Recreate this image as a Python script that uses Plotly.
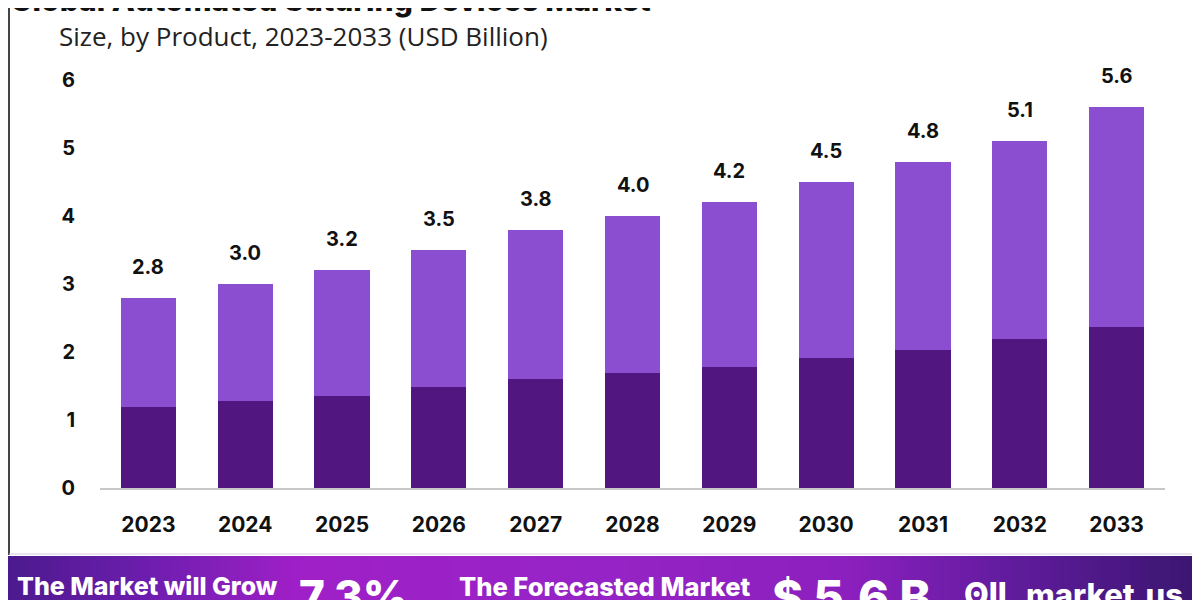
import plotly.graph_objects as go

# ---- data ----
years = ["2023", "2024", "2025", "2026", "2027", "2028", "2029", "2030", "2031", "2032", "2033"]
segment_a = [1.19, 1.28, 1.35, 1.49, 1.60, 1.69, 1.78, 1.91, 2.03, 2.19, 2.37]  # darker, bottom
totals = [2.8, 3.0, 3.2, 3.5, 3.8, 4.0, 4.2, 4.5, 4.8, 5.1, 5.6]
total_labels = ["2.8", "3.0", "3.2", "3.5", "3.8", "4.0", "4.2", "4.5", "4.8", "5.1", "5.6"]
segment_b = [round(t - a, 2) for t, a in zip(totals, segment_a)]
y_ticks = [0, 1, 2, 3, 4, 5, 6]

title_text = "Global Automated Suturing Devices Market"
subtitle_text = "Size, by Product, 2023-2033 (USD Billion)"
banner_texts = ["The Market will Grow", "7.3%", "The Forecasted Market", "$ 5.6 B", "market.us"]

# ---- layout geometry ----
# page has an 8px body margin, so figure pixel = screen pixel - 8
OFF = 8
W, H = 1192, 592
L = 100 - OFF
R = W - (1165 - OFF)
T = 46 - OFF
B = H - (488 - OFF)
PW, PH = W - L - R, H - T - B


def sx(px):  # screen px -> paper x
    return (px - OFF - L) / PW


def sy(py):  # screen px -> paper y
    return (H - B - (py - OFF)) / PH


DARK = "#521680"
LIGHT = "#8B4ED0"
BOLD = "Inter, Lato, sans-serif"

fig = go.Figure()
fig.add_trace(go.Bar(x=years, y=segment_a, marker=dict(color=DARK, line=dict(width=0)),
                     hoverinfo="skip", showlegend=False))
fig.add_trace(go.Bar(x=years, y=segment_b, marker=dict(color=LIGHT, line=dict(width=0)),
                     hoverinfo="skip", showlegend=False))

annotations = []
for i, (tot, lab) in enumerate(zip(totals, total_labels)):
    annotations.append(dict(x=i, y=tot, xref="x", yref="y", text=lab, showarrow=False,
                            yanchor="bottom", yshift=17,
                            font=dict(family=BOLD, size=20, color="#111", weight=700)))

# title (cropped at top) and subtitle
annotations.append(dict(x=sx(8), y=sy(20), xref="paper", yref="paper", xanchor="left",
                        yanchor="bottom", text=title_text, showarrow=False,
                        font=dict(family=BOLD, size=30, color="#111", weight=800)))
annotations.append(dict(x=sx(57), y=sy(36), xref="paper", yref="paper", xanchor="left",
                        yanchor="middle", text=subtitle_text, showarrow=False,
                        font=dict(family="Open Sans, sans-serif", size=26, color="#222")))

# banner gradient strips
stops = [(0, (74, 26, 140)), (150, (110, 30, 175)), (300, (160, 32, 200)), (600, (150, 36, 198)),
         (850, (140, 32, 190)), (1000, (100, 28, 160)), (1200, (58, 22, 112))]


def col_at(px):
    for (x0, c0), (x1, c1) in zip(stops[:-1], stops[1:]):
        if x0 <= px <= x1:
            f = (px - x0) / (x1 - x0)
            return "rgb(%d,%d,%d)" % tuple(int(c0[i] + (c1[i] - c0[i]) * f) for i in range(3))
    return "rgb(58,22,112)"


shapes = []
step = 10
for bx in range(0, 1200, step):
    shapes.append(dict(type="rect", xref="paper", yref="paper", x0=sx(bx), x1=sx(bx + step + 1),
                       y0=sy(556), y1=sy(601), fillcolor=col_at(bx + step / 2),
                       line=dict(width=0), layer="above"))
# frame lines
shapes.append(dict(type="line", xref="paper", yref="paper", x0=sx(9), x1=sx(9),
                   y0=sy(0), y1=sy(555), line=dict(color="#444", width=2)))
shapes.append(dict(type="line", xref="paper", yref="paper", x0=sx(1196), x1=sx(1196),
                   y0=sy(0), y1=sy(555), line=dict(color="#444", width=2)))
shapes.append(dict(type="line", xref="paper", yref="paper", x0=sx(9), x1=sx(1196),
                   y0=sy(554), y1=sy(554), line=dict(color="#d9c9e6", width=1)))

# banner texts (screen x of left edge, screen y of centre, size)
banner_pos = [(15, 586, 25), (297, 596, 44), (457, 586, 25.5), (770, 596, 47), (1024, 594, 31)]
for txt, (bx, by, bs) in zip(banner_texts, banner_pos):
    annotations.append(dict(x=sx(bx), y=sy(by), xref="paper", yref="paper", xanchor="left",
                            yanchor="middle", text=txt, showarrow=False,
                            font=dict(family=BOLD, size=bs, color="white", weight=800)))
# logo glyph
annotations.append(dict(x=sx(962), y=sy(594), xref="paper", yref="paper", xanchor="left",
                        yanchor="middle", text="ʘll", showarrow=False,
                        font=dict(family=BOLD, size=32, color="white", weight=800)))

fig.update_layout(
    width=W, height=H,
    margin=dict(l=L, r=R, t=T, b=B, autoexpand=False),
    barmode="stack", bargap=0.43,
    plot_bgcolor="white", paper_bgcolor="white",
    showlegend=False,
    xaxis=dict(type="category", range=[-0.5, len(years) - 0.5], showgrid=False, showline=True,
               linecolor="#c8c8c8", linewidth=1.5,
               ticks="", ticklabelstandoff=17, automargin=False,
               tickfont=dict(family=BOLD, size=21, color="#111", weight=700)),
    yaxis=dict(range=[0, 6.5], tickvals=y_ticks, showgrid=False, zeroline=False,
               showline=False, ticks="", ticklabelstandoff=24, automargin=False,
               tickfont=dict(family=BOLD, size=20, color="#111", weight=700)),
    annotations=annotations,
    shapes=shapes,
)

fig.write_html("out.html")
